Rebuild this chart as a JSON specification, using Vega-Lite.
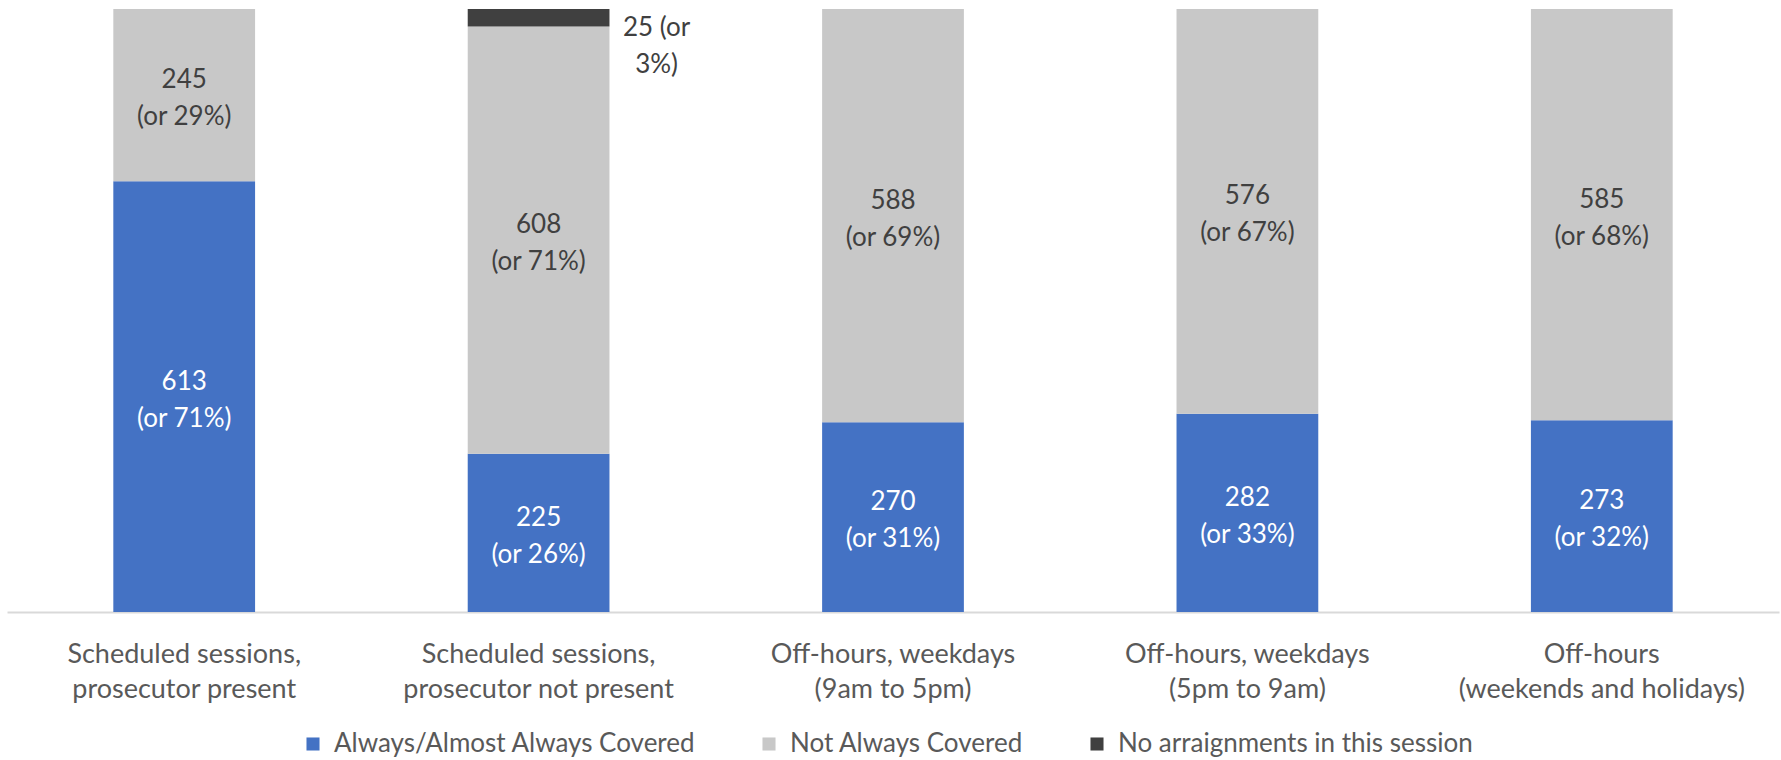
{
  "$schema": "https://vega.github.io/schema/vega-lite/v6.json",
  "autosize": {"type": "none"},
  "width": 1772,
  "height": 603,
  "padding": {"left": 7, "top": 9, "right": 2, "bottom": 148},
  "background": "white",
  "config": {"view": {"stroke": null}, "font": "Lato"},
  "data": {"values": [
    {"cat": "Scheduled sessions,\nprosecutor present", "series": "Always/Almost Always Covered", "value": 613, "label": "613\n(or 71%)"},
    {"cat": "Scheduled sessions,\nprosecutor present", "series": "Not Always Covered", "value": 245, "label": "245\n(or 29%)"},
    {"cat": "Scheduled sessions,\nprosecutor not present", "series": "Always/Almost Always Covered", "value": 225, "label": "225\n(or 26%)"},
    {"cat": "Scheduled sessions,\nprosecutor not present", "series": "Not Always Covered", "value": 608, "label": "608\n(or 71%)"},
    {"cat": "Scheduled sessions,\nprosecutor not present", "series": "No arraignments in this session", "value": 25, "label": "25 (or\n3%)"},
    {"cat": "Off-hours, weekdays\n(9am to 5pm)", "series": "Always/Almost Always Covered", "value": 270, "label": "270\n(or 31%)"},
    {"cat": "Off-hours, weekdays\n(9am to 5pm)", "series": "Not Always Covered", "value": 588, "label": "588\n(or 69%)"},
    {"cat": "Off-hours, weekdays\n(5pm to 9am)", "series": "Always/Almost Always Covered", "value": 282, "label": "282\n(or 33%)"},
    {"cat": "Off-hours, weekdays\n(5pm to 9am)", "series": "Not Always Covered", "value": 576, "label": "576\n(or 67%)"},
    {"cat": "Off-hours\n(weekends and holidays)", "series": "Always/Almost Always Covered", "value": 273, "label": "273\n(or 32%)"},
    {"cat": "Off-hours\n(weekends and holidays)", "series": "Not Always Covered", "value": 585, "label": "585\n(or 68%)"}
  ]},
  "transform": [
    {"calculate": "indexof(['Always/Almost Always Covered','Not Always Covered','No arraignments in this session'], datum.series)", "as": "k"},
    {"stack": "value", "groupby": ["cat"], "sort": [{"field": "k", "order": "ascending"}], "as": ["y0", "y1"]},
    {"calculate": "(datum.y0 + datum.y1) / 2", "as": "ymid"}
  ],
  "encoding": {
    "x": {
      "field": "cat", "type": "nominal", "sort": null, "title": null,
      "scale": {"paddingInner": 0.6, "paddingOuter": 0.3},
      "axis": {
        "labelExpr": "split(datum.label, '\\n')",
        "labelAngle": 0, "labelFont": "Lato", "labelFontSize": 27, "labelColor": "#595959",
        "labelLineHeight": 35, "labelPadding": 29, "labelLimit": 0, "ticks": false,
        "domainColor": "#d9d9d9", "domainWidth": 2, "grid": false
      }
    }
  },
  "layer": [
    {
      "mark": {"type": "bar"},
      "encoding": {
        "y": {"field": "y1", "type": "quantitative", "scale": {"domain": [0, 858], "nice": false}, "axis": null},
        "y2": {"field": "y0"},
        "color": {
          "field": "series", "type": "nominal",
          "scale": {"domain": ["Always/Almost Always Covered", "Not Always Covered", "No arraignments in this session"], "range": ["#4472C4", "#C8C8C8", "#404040"]},
          "legend": {
            "title": null, "orient": "none", "direction": "horizontal", "columns": 3,
            "legendX": 293, "legendY": 722, "padding": 0,
            "symbolType": "square", "symbolSize": 170, "symbolStrokeWidth": 0,
            "labelFont": "Lato", "labelFontSize": 26, "labelColor": "#595959",
            "labelOffset": 8, "columnPadding": 60, "labelLimit": 600
          }
        }
      }
    },
    {
      "transform": [{"filter": "datum.series == 'Always/Almost Always Covered'"}],
      "mark": {"type": "text", "font": "Lato", "fontSize": 26, "color": "white", "lineHeight": 37, "lineBreak": "\n", "baseline": "middle", "align": "center", "dy": -15},
      "encoding": {
        "y": {"field": "ymid", "type": "quantitative", "scale": {"domain": [0, 858], "nice": false}},
        "text": {"field": "label"}
      }
    },
    {
      "transform": [{"filter": "datum.series == 'Not Always Covered'"}],
      "mark": {"type": "text", "font": "Lato", "fontSize": 26, "color": "#404040", "lineHeight": 37, "lineBreak": "\n", "baseline": "middle", "align": "center", "dy": -15},
      "encoding": {
        "y": {"field": "ymid", "type": "quantitative", "scale": {"domain": [0, 858], "nice": false}},
        "text": {"field": "label"}
      }
    },
    {
      "transform": [{"filter": "datum.series == 'No arraignments in this session'"}],
      "mark": {"type": "text", "font": "Lato", "fontSize": 26, "color": "#404040", "lineHeight": 37, "lineBreak": "\n", "baseline": "middle", "align": "center", "dx": 118, "dy": 10},
      "encoding": {
        "y": {"field": "ymid", "type": "quantitative", "scale": {"domain": [0, 858], "nice": false}},
        "text": {"field": "label"}
      }
    }
  ]
}
